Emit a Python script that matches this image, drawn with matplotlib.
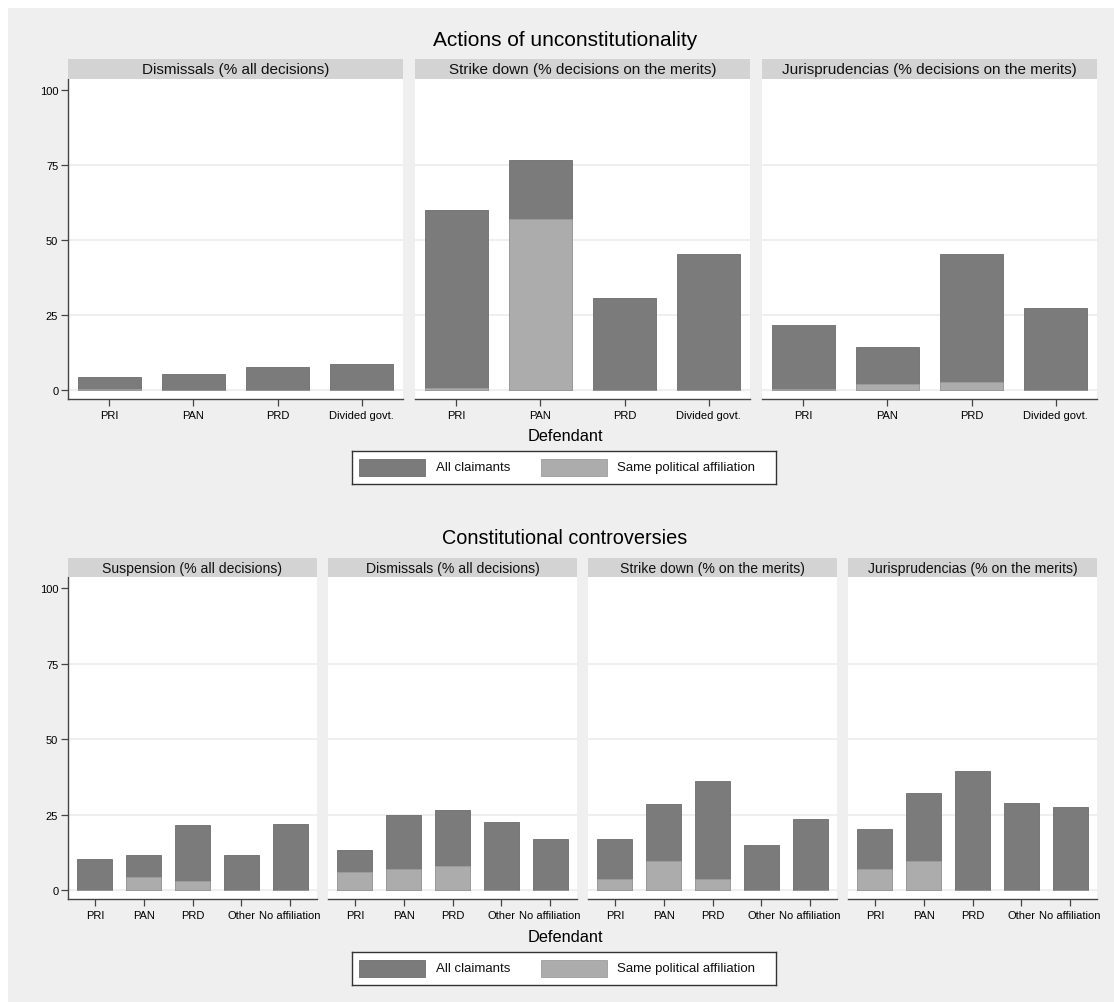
import matplotlib
matplotlib.use("Agg")
import matplotlib.pyplot as plt
from matplotlib.patches import Rectangle

plt.rcParams['font.family'] = ['Liberation Sans', 'DejaVu Sans']

# ---- data -------------------------------------------------------------
top_title = "Actions of unconstitutionality"
top_categories = ["PRI", "PAN", "PRD", "Divided govt."]
top_panels = ["Dismissals (% all decisions)",
              "Strike down (% decisions on the merits)",
              "Jurisprudencias (% decisions on the merits)"]
top_all = [
    [4.4, 5.3, 7.6, 8.7],
    [60.1, 76.6, 30.6, 45.4],
    [21.7, 14.4, 45.4, 27.2],
]
top_same = [
    [0.5, 0.0, 0.0, 0.0],
    [0.8, 57.1, 0.0, 0.0],
    [0.3, 2.0, 2.7, 0.0],
]

bottom_title = "Constitutional controversies"
bottom_categories = ["PRI", "PAN", "PRD", "Other", "No affiliation"]
bottom_panels = ["Suspension (% all decisions)",
                 "Dismissals (% all decisions)",
                 "Strike down (% on the merits)",
                 "Jurisprudencias (% on the merits)"]
bottom_all = [
    [10.4, 11.5, 21.4, 11.5, 22.0],
    [13.3, 24.9, 26.6, 22.6, 17.0],
    [17.0, 28.6, 36.2, 14.8, 23.6],
    [20.3, 32.2, 39.5, 28.9, 27.6],
]
bottom_same = [
    [0.0, 4.3, 2.9, 0.0, 0.0],
    [6.1, 7.0, 8.0, 0.0, 0.0],
    [3.7, 9.5, 3.7, 0.0, 0.0],
    [7.1, 9.5, 0.0, 0.0, 0.0],
]

y_ticks = [0, 25, 50, 75, 100]
legend_labels = ["All claimants", "Same political affiliation"]
x_title = "Defendant"

# ---- style ------------------------------------------------------------
W, H = 1114, 1003
BG = "#efefef"
DARK = "#7b7b7b"
LIGHT = "#acacac"
STRIP = "#d3d3d3"
AXIS = "#444444"
GRID = "#ececec"

fig = plt.figure(figsize=(W / 100, H / 100), dpi=100)
fig.patch.set_facecolor("white")
fig.patches.append(Rectangle((8 / W, 0), 1, 1 - 9 / H, transform=fig.transFigure,
                             facecolor=BG, edgecolor="none", zorder=-10))


def px_axes(x0, y0, x1, y1, **kw):
    return fig.add_axes([x0 / W, 1 - y1 / H, (x1 - x0) / W, (y1 - y0) / H], **kw)


def panel(x0, x1, ytop, ybot, strip_top, title, cats, all_vals, same_vals,
          width, xpad, first, tick_fs, strip_fs):
    ax = px_axes(x0, ytop, x1, ybot)
    ax.set_facecolor("white")
    x = list(range(len(cats)))
    ax.bar(x, all_vals, width=width, color=DARK, edgecolor="#6c6c6c",
           linewidth=0.6, zorder=3)
    ax.bar(x, same_vals, width=width, color=LIGHT, edgecolor="#9c9c9c",
           linewidth=0.6, zorder=4)
    ax.set_xlim(-xpad, len(cats) - 1 + xpad)
    ax.set_ylim(-3, 103.7)
    for v in y_ticks[:-1]:
        ax.axhline(v, color=GRID, lw=1.2, zorder=1)
    for s in ["top", "right"]:
        ax.spines[s].set_visible(False)
    ax.spines["bottom"].set_color(AXIS)
    ax.spines["bottom"].set_linewidth(1.0)
    ax.set_xticks(x)
    ax.set_xticklabels(cats, fontsize=tick_fs)
    ax.tick_params(axis="x", length=5, width=0.9, color=AXIS, pad=3)
    if first:
        ax.spines["left"].set_color(AXIS)
        ax.spines["left"].set_linewidth(1.0)
        ax.set_yticks(y_ticks)
        ax.set_yticklabels([str(t) for t in y_ticks], fontsize=tick_fs)
        ax.tick_params(axis="y", length=5, width=0.9, color=AXIS, pad=2)
    else:
        ax.spines["left"].set_visible(False)
        ax.set_yticks([])
    sax = px_axes(x0, strip_top, x1, ytop)
    sax.set_facecolor(STRIP)
    sax.set_xticks([])
    sax.set_yticks([])
    for s in sax.spines.values():
        s.set_visible(False)
    sax.text(0.5, 0.5, title, ha="center", va="center", fontsize=strip_fs,
             transform=sax.transAxes, color="#111111")
    return ax


def legend_box(x0, y0, x1, y1):
    lax = px_axes(x0, y0, x1, y1)
    lax.set_xlim(0, x1 - x0)
    lax.set_ylim(y1 - y0, 0)
    lax.set_xticks([])
    lax.set_yticks([])
    lax.set_facecolor("white")
    for s in lax.spines.values():
        s.set_color("#333333")
        s.set_linewidth(1.0)
    for (px, col, edge), lab, tx in zip([(7, DARK, "#6c6c6c"), (189, LIGHT, "#9c9c9c")],
                                       legend_labels, [84, 265]):
        lax.add_patch(Rectangle((px, 8), 66, 17, facecolor=col, edgecolor=edge, lw=0.6))
        lax.text(tx, 16.5, lab, ha="left", va="center", fontsize=9.5, color="#111111")


# ---- top block --------------------------------------------------------
fig.text(565 / W, 1 - 40 / H, top_title, ha="center", va="center", fontsize=15)
top_x = [(68, 403), (415, 750), (762, 1097)]
for i, (a, b) in enumerate(top_x):
    panel(a, b, 80, 400, 60, top_panels[i], top_categories, top_all[i],
          top_same[i], width=0.75, xpad=0.49, first=(i == 0), tick_fs=8,
          strip_fs=11)
fig.text(565 / W, 1 - 437 / H, x_title, ha="center", va="center", fontsize=11.8)
legend_box(352, 452, 776, 485)

# ---- bottom block -----------------------------------------------------
fig.text(565 / W, 1 - 539 / H, bottom_title, ha="center", va="center", fontsize=14.3)
bot_x = [(68, 317), (328, 577), (588, 837), (848, 1097)]
for i, (a, b) in enumerate(bot_x):
    panel(a, b, 578, 900, 559, bottom_panels[i], bottom_categories, bottom_all[i],
          bottom_same[i], width=0.72, xpad=0.55, first=(i == 0), tick_fs=8,
          strip_fs=10.1)
fig.text(565 / W, 1 - 938 / H, x_title, ha="center", va="center", fontsize=11.8)
legend_box(352, 953, 776, 986)

fig.savefig("out.png", dpi=100, facecolor=fig.get_facecolor())
